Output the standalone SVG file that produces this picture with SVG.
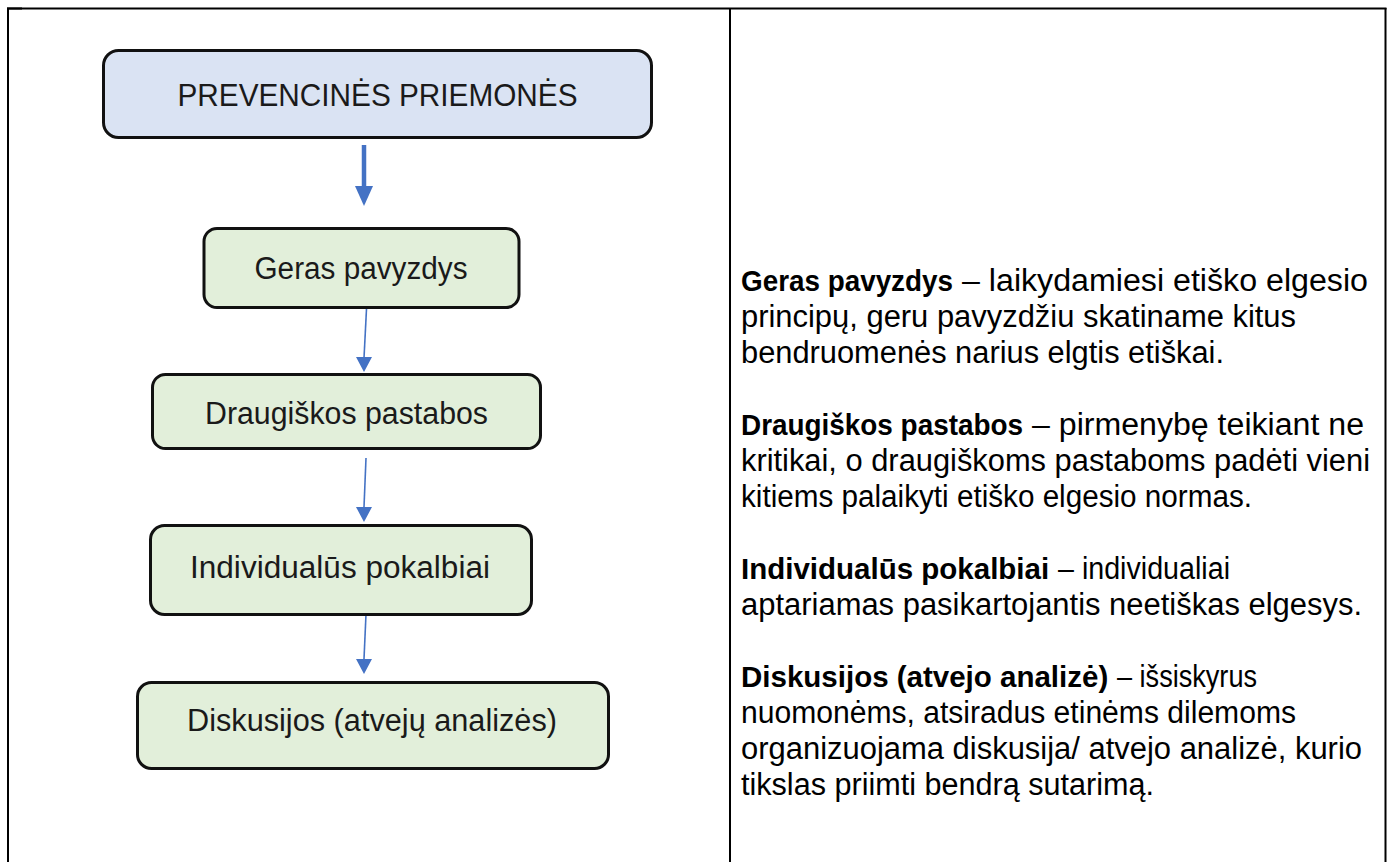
<svg xmlns="http://www.w3.org/2000/svg" width="1393" height="862" viewBox="0 0 1393 862">
<style>
.tbl{stroke:#000;stroke-width:2;fill:none}
.box{stroke:#111;stroke-width:3}
.blue{fill:#dae3f3}
.green{fill:#e2efda}
.lbl{font-family:"Liberation Sans",Arial,sans-serif;font-size:31px;fill:#1a1a1a;text-anchor:middle}
.body{font-family:"Liberation Sans",Arial,sans-serif;font-size:31px;fill:#000}
.b{font-weight:bold;font-size:29.5px}
.con{stroke:#4472c4;fill:none}
</style>
<g id="table">
<line class="tbl" x1="7" y1="8.5" x2="1386.5" y2="8.5" stroke-width="1.5"/>
<line class="tbl" x1="7" y1="8.5" x2="22" y2="8.5" stroke-width="3"/>
<line class="tbl" x1="8" y1="8" x2="8" y2="862"/>
<line class="tbl" x1="730" y1="8" x2="730" y2="862"/>
<line class="tbl" x1="1385.5" y1="8" x2="1385.5" y2="862"/>
</g>
<g id="connectors">
<line class="con" x1="364" y1="145" x2="364" y2="186" stroke-width="4.5"/>
<path d="M355,186 L373,186 L364,206 Z" fill="#4472c4"/>
<line class="con" x1="366.5" y1="309" x2="364" y2="358" stroke-width="1.6"/>
<path d="M356,357 L372,357 L364,372 Z" fill="#4472c4"/>
<line class="con" x1="366" y1="458" x2="364" y2="507" stroke-width="1.6"/>
<path d="M356,507 L372,507 L364,522 Z" fill="#4472c4"/>
<line class="con" x1="366" y1="614" x2="364" y2="659" stroke-width="1.6"/>
<path d="M356,659 L372,659 L364,674 Z" fill="#4472c4"/>
</g>
<g id="node-prevencines">
<rect class="box blue" x="103.5" y="50.5" width="548" height="87" rx="15"/>
<text class="lbl" x="377.5" y="106" textLength="400" lengthAdjust="spacingAndGlyphs">PREVENCINĖS PRIEMONĖS</text>
</g>
<g id="node-geras">
<rect class="box green" x="204" y="228.5" width="315" height="79" rx="13"/>
<text class="lbl" x="361" y="279" textLength="213" lengthAdjust="spacingAndGlyphs">Geras pavyzdys</text>
</g>
<g id="node-draugiskos">
<rect class="box green" x="152.5" y="374.5" width="388" height="74" rx="13"/>
<text class="lbl" x="346.5" y="424" textLength="283" lengthAdjust="spacingAndGlyphs">Draugiškos pastabos</text>
</g>
<g id="node-individualus">
<rect class="box green" x="150.5" y="525.5" width="381" height="89" rx="14"/>
<text class="lbl" x="340" y="578" textLength="300" lengthAdjust="spacingAndGlyphs">Individualūs pokalbiai</text>
</g>
<g id="node-diskusijos">
<rect class="box green" x="137.5" y="682.5" width="471" height="86" rx="14"/>
<text class="lbl" x="372" y="731" textLength="370" lengthAdjust="spacingAndGlyphs">Diskusijos (atvejų analizės)</text>
</g>
<g id="descriptions">
<text class="body b" x="741" y="291" textLength="212" lengthAdjust="spacingAndGlyphs">Geras pavyzdys</text>
<text class="body" x="962" y="291" textLength="406" lengthAdjust="spacingAndGlyphs">– laikydamiesi etiško elgesio</text>
<text class="body" x="741" y="327" textLength="555" lengthAdjust="spacingAndGlyphs">principų, geru pavyzdžiu skatiname kitus</text>
<text class="body" x="741" y="363" textLength="483" lengthAdjust="spacingAndGlyphs">bendruomenės narius elgtis etiškai.</text>
<text class="body b" x="741" y="435" textLength="282" lengthAdjust="spacingAndGlyphs">Draugiškos pastabos</text>
<text class="body" x="1032" y="435" textLength="332" lengthAdjust="spacingAndGlyphs">– pirmenybę teikiant ne</text>
<text class="body" x="741" y="471" textLength="629" lengthAdjust="spacingAndGlyphs">kritikai, o draugiškoms pastaboms padėti vieni</text>
<text class="body" x="741" y="507" textLength="511" lengthAdjust="spacingAndGlyphs">kitiems palaikyti etiško elgesio normas.</text>
<text class="body b" x="741" y="579">Individualūs pokalbiai</text>
<text class="body" x="1058" y="579" textLength="172" lengthAdjust="spacingAndGlyphs">– individualiai</text>
<text class="body" x="741" y="615" textLength="621" lengthAdjust="spacingAndGlyphs">aptariamas pasikartojantis neetiškas elgesys.</text>
<text class="body b" x="741" y="687">Diskusijos (atvejo analizė)</text>
<text class="body" x="1117" y="687" textLength="140" lengthAdjust="spacingAndGlyphs">– išsiskyrus</text>
<text class="body" x="741" y="723" textLength="555" lengthAdjust="spacingAndGlyphs">nuomonėms, atsiradus etinėms dilemoms</text>
<text class="body" x="741" y="759" textLength="621" lengthAdjust="spacingAndGlyphs">organizuojama diskusija/ atvejo analizė, kurio</text>
<text class="body" x="741" y="795" textLength="413" lengthAdjust="spacingAndGlyphs">tikslas priimti bendrą sutarimą.</text>
</g>
</svg>
